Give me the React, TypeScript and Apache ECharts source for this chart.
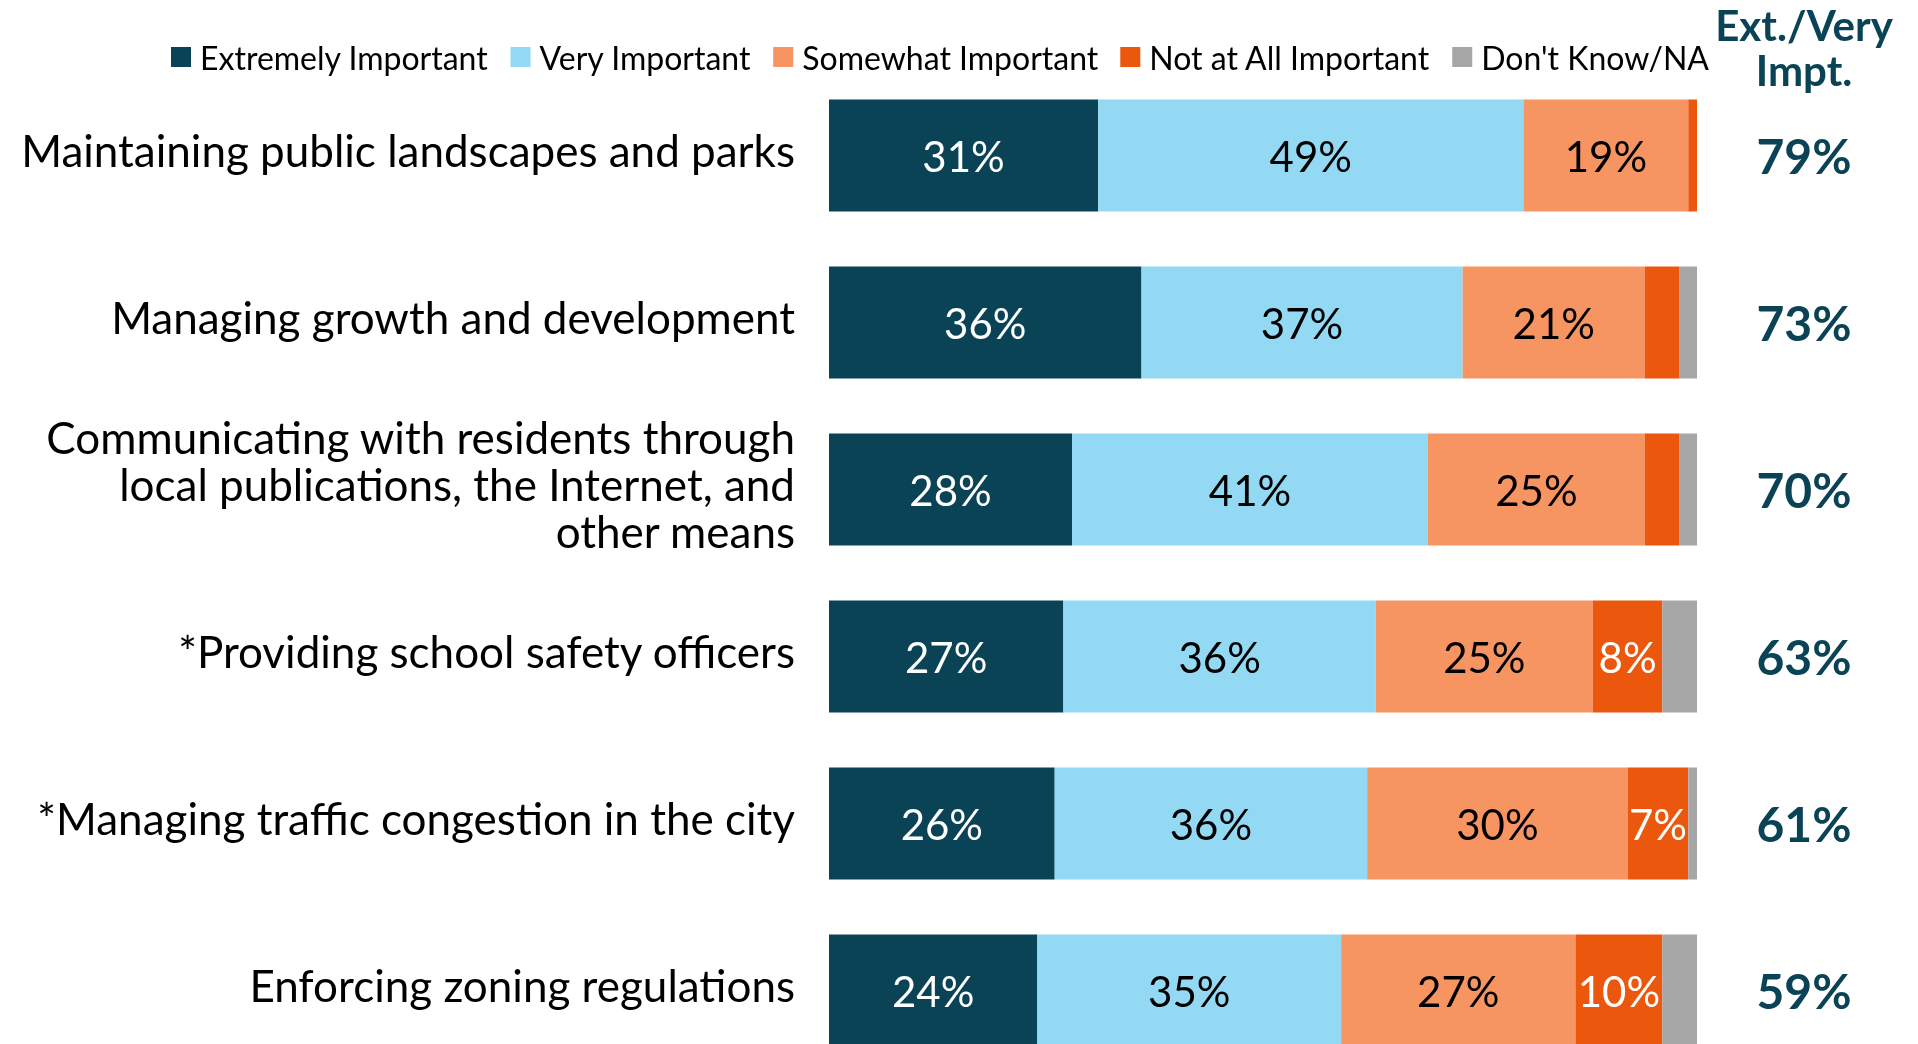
import React, { useEffect, useRef } from "react";
import * as echarts from "echarts";

const categories = [
  "Maintaining public landscapes and parks",
  "Managing growth and development",
  "Communicating with residents through\nlocal publications, the Internet, and\nother means",
  "*Providing school safety officers",
  "*Managing traffic congestion in the city",
  "Enforcing zoning regulations",
];
const seriesNames = [
  "Extremely Important",
  "Very Important",
  "Somewhat Important",
  "Not at All Important",
  "Don't Know/NA",
];
const extremely = [31, 36, 28, 27, 26, 24];
const very = [49, 37, 41, 36, 36, 35];
const somewhat = [19, 21, 25, 25, 30, 27];
const notAtAll = [1, 4, 4, 8, 7, 10];
const dontKnow = [0, 2, 2, 4, 1, 4];
const extVery = [79, 73, 70, 63, 61, 59];
const headerText = "Ext./Very\nImpt.";

const colors = ["#0B4356", "#93D9F3", "#F69462", "#EA570D", "#A6A6A6"];
const labelColors = ["#FFFFFF", "#000000", "#000000", "#FFFFFF", "#000000"];
const labelMin = [5, 5, 5, 7, 100];
const FONT = "Lato";

export default function App() {
  const ref = useRef<HTMLDivElement>(null);
  useEffect(() => {
    if (!ref.current) return;
    const chart = echarts.init(ref.current, null, { renderer: "svg" });
    const allData = [extremely, very, somewhat, notAtAll, dontKnow];
    const series = allData.map((d, i) => ({
      name: seriesNames[i],
      type: "bar",
      stack: "total",
      barCategoryGap: "33%",
      data: d,
      xAxisIndex: 0,
      yAxisIndex: 0,
      itemStyle: { color: colors[i] },
      label: {
        show: true,
        position: "inside",
        color: labelColors[i],
        fontFamily: FONT,
        fontSize: 42,
        formatter: (p: any) => (p.value >= labelMin[i] ? `${p.value}%` : ""),
      },
      emphasis: { disabled: true },
    }));
    chart.setOption({
      animation: false,
      textStyle: { fontFamily: FONT },
      title: {
        text: headerText,
        left: 1804,
        top: 2,
        padding: 0,
        textAlign: "center",
        textStyle: {
          fontFamily: FONT,
          fontWeight: "bold",
          fontSize: 42,
          lineHeight: 45,
          color: "#0B4356",
        },
      },
      legend: {
        left: 166,
        top: 36,
        itemWidth: 20,
        itemHeight: 20,
        itemGap: 22,
        icon: "rect",
        data: seriesNames,
        textStyle: { fontFamily: FONT, fontSize: 32, color: "#000000", padding: [0, 0, 0, 4] },
      },
      grid: [
        { left: 829, width: 868, top: 72, height: 1002, containLabel: false },
        { left: 829, width: 868, top: 66, height: 1002, containLabel: false },
      ],
      xAxis: [
        { type: "value", min: 0, max: 100, show: false, gridIndex: 0 },
        { type: "value", min: 0, max: 100, show: false, gridIndex: 1 },
      ],
      yAxis: [
        {
          type: "category",
          gridIndex: 0,
          data: categories,
          inverse: true,
          axisLine: { show: false },
          axisTick: { show: false },
          axisLabel: { show: false },
        },
        {
          type: "category",
          gridIndex: 0,
          position: "right",
          data: extVery.map((v) => `${v}%`),
          inverse: true,
          axisLine: { show: false },
          axisTick: { show: false },
          axisLabel: {
            fontFamily: FONT,
            fontSize: 48,
            fontWeight: "bold",
            color: "#0B4356",
            margin: 107,
            align: "center",
          },
        },
        {
          type: "category",
          gridIndex: 1,
          data: categories,
          inverse: true,
          axisLine: { show: false },
          axisTick: { show: false },
          axisLabel: {
            fontFamily: FONT,
            fontSize: 44,
            lineHeight: 47,
            color: "#000000",
            margin: 34,
            align: "right",
          },
        },
      ],
      series,
    });
    return () => chart.dispose();
  }, []);
  return (
    <div
      ref={ref}
      style={{ position: "fixed", left: 0, top: 0, width: 1918, height: 1090 }}
    />
  );
}
